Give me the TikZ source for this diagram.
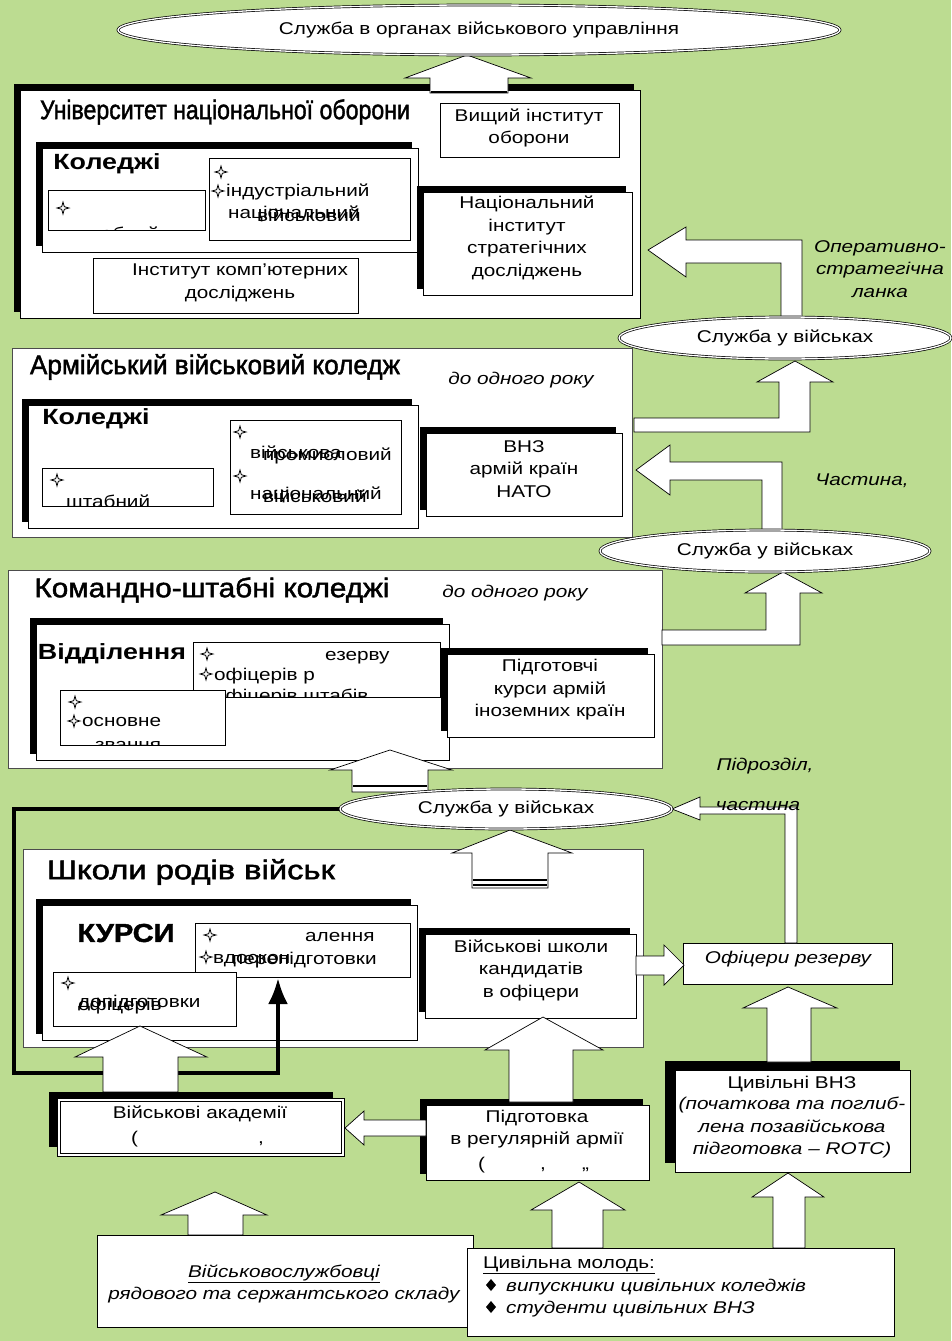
\documentclass[tikz,border=0pt]{standalone}
\usepackage{fontspec}
\usepackage{graphicx}
\setmainfont{Liberation Sans}[FakeStretch=1.22]
\newfontfamily\ttlfont{Liberation Sans}[FakeBold=1.6]
\newfontfamily\heavyfont{Liberation Sans}[FakeBold=1.5,FakeStretch=1.12]
\usetikzlibrary{arrows.meta,shadows,shapes.geometric}
\definecolor{bg}{RGB}{188,220,145}
\newcommand\fs{\fontsize{17}{22.5}\selectfont}
\newcommand\ttlw[2]{\resizebox{#1pt}{\height}{\ttlfont\fontsize{27}{30}\selectfont #2}}
\tikzset{
  box/.style={draw=black, fill=white, line width=0.6pt, inner sep=0pt, outer sep=0pt, anchor=north west},
  gbox/.style={box, draw=black!70},
  shbox/.style={box, general shadow={fill=black, shadow xshift=-6pt, shadow yshift=6pt}},
  barrow/.style={draw=black, fill=white, line width=0.7pt, line join=miter},
  ell/.style={ellipse, draw=black, fill=white, line width=0.7pt, double=white, double distance=1.3pt, inner sep=0pt, font=\fs},
  txt/.style={inner sep=0pt, font=\fs, align=center},
  itx/.style={inner sep=0pt, font=\fs\itshape, align=center},
  ttl/.style={inner sep=0pt},
  hd/.style={inner sep=0pt, font=\fontsize{22}{25}\selectfont\bfseries},
  lt/.style={inner sep=0pt, font=\fs, anchor=base west},
  pics/fstar/.style={code={\draw[line width=0.8pt, fill=white, line join=miter] (0,-6) -- (1.3,-1.3) -- (6,0) -- (1.3,1.3) -- (0,6) -- (-1.3,1.3) -- (-6,0) -- (-1.3,-1.3) -- cycle;}},
  pics/fdiam/.style={code={\fill[black] (0,-6) -- (5,0) -- (0,6) -- (-5,0) -- cycle;}},
}
\begin{document}
\begin{tikzpicture}[x=1pt,y=-1pt]
\useasboundingbox (0,0) rectangle (951,1341);
\fill[bg] (0,0) rectangle (951,1341);

% ================= University of National Defense
\node[shbox, minimum width=620pt, minimum height=228pt] (univ) at (20,90) {};
\node[ttl] (univT) at (225,112) {\ttlw{370}{Університет національної оборони}};
\node[box, minimum width=179pt, minimum height=54pt] (vio) at (440,103) {};
\node[txt] (vioT) at (529,128) {Вищий інститут\\оборони};
\node[shbox, minimum width=376pt, minimum height=104pt] (k1) at (42,148) {};
\node[hd] (k1T) at (107,164) {Коледжі};
\node[box, minimum width=157pt, minimum height=40pt] (sh1) at (48,190) {};
\pic at (63,208) {fstar};
\begin{scope}
\clip (sh1.north west) rectangle (sh1.south east);
\node[lt] (sh1T) at (75,239) {штабний};
\end{scope}
\node[box, minimum width=201pt, minimum height=82pt] (in1) at (209,158) {};
\pic at (221,172) {fstar};
\pic at (218,191) {fstar};
\node[lt] (in1a) at (226,196) {індустріальний};
\node[lt] (in1b) at (228,218) {національний};
\node[lt] (in1c) at (257,221) {військовий};
\node[box, minimum width=265pt, minimum height=55pt] (ikd) at (93,258) {};
\node[txt] (ikdT) at (240,283) {Інститут комп'ютерних\\досліджень};
\node[shbox, minimum width=209pt, minimum height=103pt] (nisd) at (423,192) {};
\node[txt] (nisdT) at (527,238) {Національний\\інститут\\стратегічних\\досліджень};
\draw[barrow] (430,93) -- (430,78) -- (405,78) -- (467,55) -- (531,78) -- (508,78) -- (508,93) -- cycle;
\draw[line width=2pt] (431,92) -- (507,92);

% ================= Army War College
\node[gbox, minimum width=620pt, minimum height=189pt] (ac) at (12,348) {};
\node[ttl] (acT) at (215,367) {\ttlw{370}{Армійський військовий коледж}};
\node[itx] (acR) at (521,380) {до одного року};
\node[shbox, minimum width=390pt, minimum height=123pt] (k2) at (28,405) {};
\node[hd] (k2T) at (96,419) {Коледжі};
\node[box, minimum width=171pt, minimum height=38pt] (sh2) at (42,468) {};
\pic at (57,480) {fstar};
\begin{scope}
\clip (sh2.north west) rectangle (sh2.south east);
\node[lt] (sh2T) at (66,507) {штабний};
\end{scope}
\node[box, minimum width=171pt, minimum height=94pt] (m2) at (230,420) {};
\pic at (240,432) {fstar};
\node[lt] (m2a) at (250,458) {військова};
\node[lt] (m2b) at (263,460) {промисловий};
\pic at (240,476) {fstar};
\node[lt] (m2c) at (250,499) {національний};
\node[lt] (m2d) at (263,502) {військовий};
\node[shbox, minimum width=196pt, minimum height=83pt] (nato) at (426,433) {};
\node[txt] (natoT) at (524,469) {ВНЗ\\армій країн\\НАТО};

% ================= Command and staff colleges
\node[gbox, minimum width=654pt, minimum height=198pt] (cs) at (8,570) {};
\node[ttl] (csT) at (212,590) {\ttlw{355}{Командно-штабні коледжі}};
\node[itx] (csR) at (515,593) {до одного року};
\node[shbox, minimum width=413pt, minimum height=136pt] (vid) at (36,624) {};
\node[hd] (vidT) at (112,654) {Відділення};
\node[box, minimum width=247pt, minimum height=55pt] (off) at (193,642) {};
\pic at (207,654) {fstar};
\node[lt] (offa) at (325,660) {езерву};
\pic at (206,674) {fstar};
\node[lt] (offb) at (214,680) {офіцерів р};
\begin{scope}
\clip (off.north west) rectangle (off.south east);
\node[lt] (offc) at (214,701) {офіцерів штабів};
\end{scope}
\node[box, minimum width=165pt, minimum height=55pt] (osn) at (60,690) {};
\pic at (75,702) {fstar};
\pic at (74,721) {fstar};
\node[lt] (osna) at (82,726) {основне};
\begin{scope}
\clip (osn.north west) rectangle (osn.south east);
\node[lt] (osnb) at (95,750) {звання};
\end{scope}
\node[shbox, minimum width=207pt, minimum height=83pt] (prep) at (447,654) {};
\node[txt] (prepT) at (550,690) {Підготовчі\\курси армій\\іноземних країн};

% ================= Branch schools
\node[gbox, minimum width=620pt, minimum height=198pt] (sb) at (23,849) {};
\node[ttl] (sbT) at (191,872) {\ttlw{288}{Школи родів військ}};
\node[shbox, minimum width=375pt, minimum height=135pt] (kb) at (42,905) {};
\node[inner sep=0pt, font=\heavyfont\fontsize{26}{28}\selectfont\bfseries] (kbT) at (126,933) {КУРСИ};
\node[box, minimum width=215pt, minimum height=54pt] (vd) at (195,923) {};
\pic at (210,935) {fstar};
\node[lt] (vda) at (305,941) {алення};
\pic at (206,957) {fstar};
\node[lt] (vdb) at (213,963) {вдоскон};
\node[lt] (vdc) at (232,964) {перепідготовки};
\node[box, minimum width=183pt, minimum height=54pt] (ofi) at (53,972) {};
\pic at (68,983) {fstar};
\node[lt] (ofia) at (78,1007) {допідготовки};
\node[lt] (ofib) at (78,1010) {офіцерів};
\node[shbox, minimum width=211pt, minimum height=84pt] (vsk) at (425,934) {};
\node[txt] (vskT) at (531,970) {Військові школи\\кандидатів\\в офіцери};
\node[box, minimum width=209pt, minimum height=41pt] (ofr) at (683,943) {};
\node[itx] (ofrT) at (788,959) {Офіцери резерву};

% ================= Bottom boxes
\node[box, general shadow={fill=black, shadow xshift=-10pt, shadow yshift=9pt}, minimum width=235pt, minimum height=102pt] (civ) at (675,1070) {};
\node[txt] (civT) at (792,1084) {Цивільні ВНЗ};
\node[itx] (civI) at (792,1128) {(початкова та поглиб-\\лена позавійськова\\підготовка – ROTC)};
\node[shbox, minimum width=223pt, minimum height=75pt] (pra) at (426,1105) {};
\node[txt] (praT) at (537,1129) {Підготовка\\в регулярній армії};
\node[lt] (praP) at (478,1169) {(};
\node[lt] (praQ) at (540,1169) {,};
\node[lt] (praR) at (582,1169) {,,};

% thick line
\draw[line width=4pt, line join=miter, -{Latex[length=26pt,width=20pt]}] (340,809) -- (14,809) -- (14,1073) -- (278,1073) -- (278,978);

% arrows
\draw[barrow] (103,1092) -- (103,1057) -- (75,1057) -- (140,1026) -- (207,1057) -- (178,1057) -- (178,1092) -- cycle;
\node[box, general shadow={fill=black, shadow xshift=-10pt, shadow yshift=8pt}, line width=0.8pt, double=white, double distance=2.5pt, minimum width=284pt, minimum height=55pt] (ma) at (59,1100) {};
\node[txt] (maT) at (200,1114) {Військові академії};
\node[lt] (maP) at (131,1143) {(};
\node[lt] (maQ) at (258,1143) {,};

\draw[barrow] (509,1102) -- (509,1050) -- (485,1050) -- (543,1017) -- (603,1050) -- (573,1050) -- (573,1102) -- cycle;
\draw[barrow] (426,1120) -- (364,1120) -- (364,1111) -- (345,1128) -- (364,1145) -- (364,1136) -- (426,1136) -- cycle;
\draw[barrow] (636,956) -- (664,956) -- (664,945) -- (684,965) -- (664,985) -- (664,975) -- (636,975) -- cycle;
\draw[barrow] (767,1062) -- (767,1008) -- (743,1008) -- (788,987) -- (837,1008) -- (811,1008) -- (811,1062) -- cycle;
\draw[barrow] (188,1235) -- (188,1215) -- (161,1215) -- (215,1192) -- (267,1215) -- (243,1215) -- (243,1235) -- cycle;
\draw[barrow] (552,1248) -- (552,1210) -- (531,1210) -- (579,1182) -- (625,1210) -- (603,1210) -- (603,1248) -- cycle;
\draw[barrow] (773,1248) -- (773,1197) -- (752,1197) -- (788,1173) -- (824,1197) -- (805,1197) -- (805,1248) -- cycle;
\draw[barrow] (472,888) -- (472,853) -- (452,853) -- (510,830) -- (572,853) -- (548,853) -- (548,888) -- cycle;
\draw[line width=1.5pt] (473,880) -- (547,880) (473,885) -- (547,885);
\draw[barrow] (352,792) -- (352,770) -- (330,770) -- (390,750) -- (452,770) -- (428,770) -- (428,792) -- cycle;
\draw[line width=2pt] (353,786) -- (427,786);
\draw[barrow] (785,943) -- (785,814) -- (700,814) -- (700,820) -- (672,809) -- (700,797) -- (700,807) -- (797,807) -- (797,943) -- cycle;
\draw[barrow] (662,630) -- (766,630) -- (766,593) -- (745,593) -- (783,572) -- (822,593) -- (800,593) -- (800,645) -- (662,645) -- cycle;
\draw[barrow] (762,533) -- (762,480) -- (670,480) -- (670,495) -- (636,470) -- (670,445) -- (670,462) -- (782,462) -- (782,533) -- cycle;
\draw[barrow] (634,418) -- (779,418) -- (779,382) -- (757,382) -- (795,361) -- (833,382) -- (810,382) -- (810,432) -- (634,432) -- cycle;
\draw[barrow] (781,320) -- (781,263) -- (686,263) -- (686,277) -- (648,250) -- (686,227) -- (686,240) -- (802,240) -- (802,320) -- cycle;

% ellipses
\node[ell, minimum width=722pt, minimum height=50pt] (e0) at (479,30) {Служба в органах військового управління};
\node[ell, minimum width=332pt, minimum height=42pt] (e1) at (785,338) {Служба у військах};
\node[ell, minimum width=330pt, minimum height=42pt] (e2) at (765,551) {Служба у військах};
\node[ell, minimum width=332pt, minimum height=40pt] (e3) at (506,809) {Служба у військах};

% side labels
\node[itx] (opT) at (880,269) {Оперативно-\\стратегічна\\ланка};
\node[itx] (chT) at (862,481) {Частина,};
\node[itx] (pdT) at (765,766) {Підрозділ,};
\node[itx] (cnT) at (758,806) {частина};

% source boxes
\node[box, minimum width=376pt, minimum height=92pt] (sol) at (97,1235) {};
\node[itx] (solT) at (284,1284) {\underline{Військовослужбовці}\\рядового та сержантського складу};
\node[box, minimum width=427pt, minimum height=88pt] (cy) at (467,1248) {};
\node[lt] (cyT) at (483,1268) {\underline{Цивільна молодь:}};
\pic at (491,1285) {fdiam};
\node[lt, font=\fs\itshape] (cyA) at (506,1291) {випускники цивільних коледжів};
\pic at (491,1307) {fdiam};
\node[lt, font=\fs\itshape] (cyB) at (506,1313) {студенти цивільних ВНЗ};
\end{tikzpicture}
\end{document}
